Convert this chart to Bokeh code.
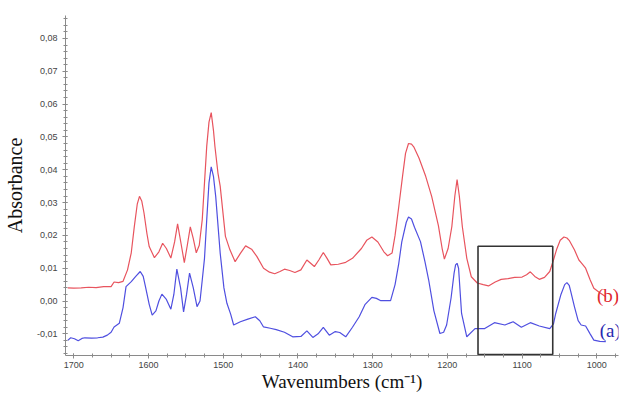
from bokeh.plotting import figure
from bokeh.models import Range1d, FixedTicker, CustomJSTickFormatter, Label
from bokeh.embed import file_html
from bokeh.resources import INLINE

# FTIR spectra: wavenumber (cm-1) and absorbance
wn_b = [1708, 1700, 1690, 1680, 1670, 1660, 1650, 1646, 1640, 1634, 1628, 1623, 1619, 1615, 1612,
        1609, 1606, 1602, 1599, 1592, 1586, 1581, 1576, 1570, 1565, 1561, 1556, 1552, 1548, 1544,
        1540, 1536, 1532, 1528, 1525, 1522, 1519, 1516, 1513, 1511, 1507, 1504, 1497, 1491, 1484,
        1477, 1470, 1462, 1455, 1446, 1438, 1431, 1424, 1418, 1411, 1404, 1396, 1388, 1383, 1378,
        1372, 1366, 1361, 1356, 1346, 1336, 1327, 1315, 1308, 1301, 1293, 1285, 1280, 1274, 1270,
        1265, 1260, 1256, 1252, 1248, 1245, 1238, 1229, 1221, 1212, 1207, 1204, 1199, 1194, 1190,
        1187, 1184, 1180, 1174, 1168, 1160, 1152, 1145, 1136, 1128, 1119, 1110, 1100, 1094, 1089,
        1083, 1077, 1070, 1063, 1058, 1054, 1049, 1044, 1040, 1037, 1030, 1024, 1021, 1015, 1009,
        1004, 996, 988]
abs_b = [0.0040, 0.0039, 0.0040, 0.0042, 0.0041, 0.0044, 0.0044, 0.0058, 0.0056, 0.0060, 0.0095,
         0.0147, 0.0225, 0.0295, 0.0319, 0.0305, 0.0269, 0.0205, 0.0166, 0.0132, 0.0150, 0.0176,
         0.0160, 0.0131, 0.0180, 0.0235, 0.0170, 0.0117, 0.0170, 0.0226, 0.0190, 0.0147, 0.0170,
         0.0248, 0.0360, 0.0472, 0.0545, 0.0574, 0.0520, 0.0470, 0.0390, 0.0350, 0.0197, 0.0156,
         0.0120, 0.0145, 0.0168, 0.0158, 0.0136, 0.0100, 0.0088, 0.0083, 0.0090, 0.0097, 0.0093,
         0.0087, 0.0095, 0.0125, 0.0115, 0.0105, 0.0125, 0.0148, 0.0130, 0.0110, 0.0112, 0.0118,
         0.0130, 0.0160, 0.0185, 0.0195, 0.0180, 0.0150, 0.0138, 0.0146, 0.0200, 0.0288, 0.0380,
         0.0450, 0.0480, 0.0478, 0.0470, 0.0436, 0.0380, 0.0319, 0.0230, 0.0160, 0.0128, 0.0160,
         0.0227, 0.0320, 0.0370, 0.0320, 0.0227, 0.0130, 0.0074, 0.0055, 0.0050, 0.0046, 0.0058,
         0.0066, 0.0068, 0.0072, 0.0073, 0.0080, 0.0089, 0.0075, 0.0066, 0.0072, 0.0090, 0.0125,
         0.0156, 0.0185, 0.0195, 0.0192, 0.0185, 0.0156, 0.0125, 0.0117, 0.0100, 0.0065, 0.0039,
         0.0025, 0.0013]

wn_a = [1708, 1704, 1699, 1694, 1689, 1685, 1676, 1668, 1661, 1655, 1650, 1646, 1639, 1634, 1630,
        1623, 1617, 1611, 1607, 1604, 1599, 1595, 1590, 1586, 1582, 1576, 1570, 1566, 1562, 1557,
        1553, 1549, 1545, 1540, 1535, 1531, 1528, 1525, 1522, 1519, 1516, 1513, 1510, 1504, 1499,
        1495, 1490, 1486, 1477, 1467, 1457, 1451, 1446, 1437, 1429, 1418, 1407, 1396, 1388, 1380,
        1373, 1366, 1358, 1350, 1344, 1336, 1327, 1318, 1310, 1301, 1295, 1289, 1276, 1270, 1265,
        1261, 1255, 1252, 1248, 1244, 1236, 1230, 1225, 1218, 1210, 1205, 1201, 1195, 1191, 1189,
        1187, 1185, 1181, 1174, 1163, 1150, 1137, 1123, 1112, 1101, 1089, 1077, 1063, 1058, 1055,
        1048, 1043, 1040, 1037, 1035, 1030, 1025, 1021, 1015, 1009, 1004, 996, 988]
abs_a = [-0.0120, -0.0112, -0.0115, -0.0121, -0.0114, -0.0112, -0.0113, -0.0112, -0.0110, -0.0104,
         -0.0095, -0.0079, -0.0068, -0.0020, 0.0044, 0.0059, 0.0075, 0.0090, 0.0075, 0.0044,
         -0.0010, -0.0043, -0.0030, 0.0000, 0.0021, 0.0005, -0.0025, 0.0020, 0.0097, 0.0040,
         -0.0033, 0.0020, 0.0085, 0.0040, -0.0017, 0.0000, 0.0064, 0.0130, 0.0248, 0.0360,
         0.0409, 0.0380, 0.0319, 0.0146, 0.0040, -0.0007, -0.0040, -0.0073, -0.0063, -0.0055,
         -0.0048, -0.0060, -0.0079, -0.0083, -0.0087, -0.0095, -0.0109, -0.0108, -0.0091, -0.0111,
         -0.0100, -0.0080, -0.0104, -0.0093, -0.0096, -0.0109, -0.0080, -0.0048, -0.0010, 0.0011,
         0.0008, 0.0001, 0.0001, 0.0050, 0.0115, 0.0180, 0.0240, 0.0256, 0.0250, 0.0225, 0.0181,
         0.0120, 0.0064, -0.0030, -0.0099, -0.0095, -0.0073, 0.0010, 0.0085, 0.0110, 0.0115,
         0.0100, -0.0038, -0.0109, -0.0084, -0.0084, -0.0066, -0.0073, -0.0063, -0.0080, -0.0066,
         -0.0076, -0.0084, -0.0070, -0.0038, 0.0020, 0.0050, 0.0056, 0.0048, 0.0030, -0.0017,
         -0.0060, -0.0073, -0.0076, -0.0100, -0.0119, -0.0123, -0.0124]

x_ticks = [1700, 1600, 1500, 1400, 1300, 1200, 1100, 1000]
y_ticks = [-0.01, 0.0, 0.01, 0.02, 0.03, 0.04, 0.05, 0.06, 0.07, 0.08]

# highlighted region
box_left, box_right = 1159, 1059
box_bottom, box_top = -0.0163, 0.0167

p = figure(width=638, height=405, output_backend="svg", toolbar_location=None,
           x_range=Range1d(1711, 971), y_range=Range1d(-0.0166, 0.087),
           min_border_left=60, min_border_right=20, min_border_top=15, min_border_bottom=50)
p.outline_line_color = None
p.grid.grid_line_color = None
p.background_fill_color = "white"

p.line(wn_b, abs_b, line_color="#e8545e", line_width=1.2)
p.line(wn_a, abs_a, line_color="#4f4fe0", line_width=1.2)
p.quad(left=box_left, right=box_right, bottom=box_bottom, top=box_top,
       fill_color=None, line_color="#333333", line_width=1.6)

fmt = CustomJSTickFormatter(code="return (Math.abs(tick) < 1e-9 ? 0 : tick).toFixed(2).replace('.', ',');")
p.yaxis.ticker = FixedTicker(ticks=y_ticks,
                             minor_ticks=[round(-0.016 + 0.002 * i, 3) for i in range(52)])
p.yaxis.formatter = fmt
p.xaxis.ticker = FixedTicker(ticks=x_ticks, minor_ticks=[975 + 25 * i for i in range(30)])

for ax in (p.xaxis[0], p.yaxis[0]):
    ax.axis_line_color = "#8a8a8a"
    ax.major_tick_line_color = "#8a8a8a"
    ax.minor_tick_line_color = "#8a8a8a"
    ax.major_tick_out = 3
    ax.major_tick_in = 2
    ax.minor_tick_out = 2
    ax.minor_tick_in = 2
    ax.major_label_text_font = "Liberation Sans"
    ax.major_label_text_font_size = "9px"
    ax.major_label_text_color = "#444444"
    ax.axis_label_text_font = "Liberation Serif"
    ax.axis_label_text_font_style = "normal"
    ax.axis_label_text_color = "#111111"

p.xaxis.major_label_standoff = 3
p.xaxis.axis_label = "Wavenumbers (cm\u207b\u00b9)"
p.xaxis.axis_label_text_font_size = "19px"
p.xaxis.axis_label_standoff = 0
p.yaxis.axis_label = "Absorbance"
p.yaxis.axis_label_text_font_size = "20px"
p.yaxis.axis_label_standoff = 8

p.add_layout(Label(x=985, y=0.0018, text="(b)", text_color="#e02830", text_font="Liberation Serif",
                   text_font_size="19px", text_align="center", text_baseline="middle"))
p.add_layout(Label(x=982, y=-0.0089, text="(a)", text_color="#2828b0", text_font="Liberation Serif",
                   text_font_size="19px", text_align="center", text_baseline="middle"))

open("out.html", "w").write(file_html(p, INLINE))
